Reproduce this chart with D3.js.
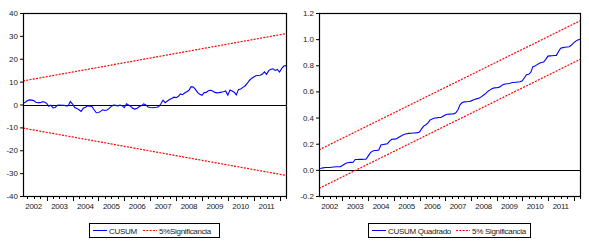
<!DOCTYPE html>
<html>
<head>
<meta charset="utf-8">
<script src="https://cdn.jsdelivr.net/npm/d3@7"></script>
<style>
  body { margin: 0; background: #fff; }
  text { font-family: "Liberation Sans", Arial, sans-serif; fill: #222; }
</style>
</head>
<body>
<svg id="drawing_region"></svg>
<script>
// monthly observations, 2002M02 .. 2012M04
const startMonth = new Date(2002, 1, 1);
const nObs = 123;

const cusum = [
  0.6, 0.9, 1.6, 2.0, 1.9, 1.7, 1.0, 0.8, 0.8, 1.2,
  1.1, 0.5, -0.8, -0.3, -1.5, -1.3, -0.3, -0.2, -0.3, -0.3,
  -0.6, -0.5, 1.3, 0.2, -1.3, -1.7, -2.3, -3.0, -1.6, -1.2,
  -0.6, -0.7, -0.9, -2.3, -3.6, -3.5, -3.0, -2.3, -2.6, -2.4, -1.7,
  -0.8, -0.3, -0.4, -0.6, -0.3, -0.5, -1.4, 0.3, -0.2, -0.8,
  -1.7, -2.0, -1.6, -0.9, -0.5, 0.3, -0.2, -1.1, -1.3, -1.4,
  -1.3, -1.2, -1.0, 0.3, 1.9, 0.8, 1.5, 2.2, 2.6, 3.2, 3.0,
  3.5, 4.6, 4.3, 5.0, 5.6, 6.2, 7.8, 7.6, 6.6, 5.2,
  4.5, 4.0, 5.2, 5.3, 6.0, 6.2, 5.9, 5.3, 5.1, 5.2,
  5.4, 5.6, 5.9, 4.1, 6.3, 5.9, 5.4, 4.2, 6.6, 6.8, 7.5,
  8.1, 9.2, 10.5, 11.4, 12.0, 12.6, 12.7, 12.8, 13.2, 14.3,
  13.2, 14.8, 15.4, 15.6, 14.9, 15.3, 14.2, 15.8, 16.8, 17.0
];

const cusumSq = [
  0.010, 0.012, 0.015, 0.018, 0.018, 0.018, 0.020, 0.022, 0.024, 0.024,
  0.025, 0.033, 0.045, 0.052, 0.056, 0.057, 0.058, 0.079, 0.079, 0.080,
  0.080, 0.081, 0.081, 0.105, 0.130, 0.143, 0.148, 0.149, 0.152, 0.190,
  0.194, 0.197, 0.200, 0.220, 0.234, 0.235, 0.236, 0.245, 0.255, 0.265,
  0.272, 0.276, 0.279, 0.280, 0.282, 0.283, 0.285, 0.290, 0.315, 0.335,
  0.345, 0.360, 0.382, 0.390, 0.397, 0.398, 0.400, 0.400, 0.410, 0.420,
  0.425, 0.426, 0.427, 0.428, 0.436, 0.460, 0.500, 0.515, 0.520, 0.521,
  0.523, 0.526, 0.535, 0.540, 0.545, 0.550, 0.560, 0.573, 0.585, 0.602,
  0.612, 0.622, 0.627, 0.628, 0.631, 0.640, 0.652, 0.657, 0.659, 0.661,
  0.666, 0.668, 0.670, 0.672, 0.674, 0.682, 0.705, 0.728, 0.731, 0.745,
  0.790, 0.794, 0.805, 0.816, 0.821, 0.825, 0.845, 0.870, 0.872, 0.873,
  0.875, 0.876, 0.905, 0.930, 0.935, 0.938, 0.940, 0.942, 0.955, 0.972,
  0.985, 0.993, 1.000
];

// 5% bands: value at first and last observation (straight lines)
const cusumUpper = [10.3, 31.0];
const cusumLower = [-10.3, -31.0];
const sqUpper = [0.153, 1.14];
const sqLower = [-0.142, 0.845];

const yearLabels = ["2002", "2003", "2004", "2005", "2006", "2007", "2008", "2009", "2010", "2011"];
const leftTicks = [40, 30, 20, 10, 0, -10, -20, -30, -40];
const rightTicks = [1.2, 1.0, 0.8, 0.6, 0.4, 0.2, 0.0, -0.2];

const dates = d3.range(nObs).map(i => d3.timeMonth.offset(startMonth, i));
const first = dates[0], last = dates[dates.length - 1];

const svg = d3.select('#drawing_region')
  .attr('width', 589)
  .attr('height', 246);

function drawPanel(cfg) {
  const x = d3.scaleTime().domain([first, last]).range([cfg.left, cfg.right]);
  const y = d3.scaleLinear().domain(cfg.domain).range([cfg.bottom, cfg.top]);
  const g = svg.append('g');

  // y ticks + labels
  g.selectAll('.ytick').data(cfg.ticks).join('line')
    .attr('x1', cfg.left - 3).attr('x2', cfg.left)
    .attr('y1', d => y(d) + 0.5).attr('y2', d => y(d) + 0.5)
    .attr('stroke', '#000');
  g.selectAll('.ylab').data(cfg.ticks).join('text')
    .attr('x', cfg.left - 5)
    .attr('y', d => y(d) + 3)
    .attr('text-anchor', 'end')
    .attr('font-size', '8px')
    .text(d => cfg.fmt(d).replace('−', '-'));

  // x ticks: quarterly small, yearly long
  const quarters = d3.timeMonth.every(3).range(first, d3.timeDay.offset(last, 1));
  g.selectAll('.xtick').data(quarters).join('line')
    .attr('x1', d => Math.round(x(d)) + 0.5).attr('x2', d => Math.round(x(d)) + 0.5)
    .attr('y1', cfg.bottom)
    .attr('y2', d => cfg.bottom + (d.getMonth() === 0 ? 5 : 3))
    .attr('stroke', '#000');
  g.selectAll('.xlab').data(yearLabels).join('text')
    .attr('x', d => x(new Date(+d, 6, 1)))
    .attr('y', cfg.bottom + 13)
    .attr('text-anchor', 'middle')
    .attr('font-size', '8px')
    .attr('letter-spacing', '-0.3px')
    .text(d => d);

  // zero line
  g.append('line')
    .attr('x1', cfg.left).attr('x2', cfg.right)
    .attr('y1', Math.round(y(0)) + 0.5).attr('y2', Math.round(y(0)) + 0.5)
    .attr('stroke', '#000');

  // bands
  cfg.bands.forEach(b => {
    g.append('path')
      .datum([[first, b[0]], [last, b[1]]])
      .attr('fill', 'none')
      .attr('stroke', '#ff0000')
      .attr('stroke-width', 1.2)
      .attr('stroke-dasharray', '2,1.3')
      .attr('d', d3.line().x(d => x(d[0])).y(d => y(d[1])));
  });

  // series
  g.append('path')
    .datum(cfg.series)
    .attr('fill', 'none')
    .attr('stroke', '#0000ff')
    .attr('stroke-width', 1.1)
    .attr('d', d3.line().x((d, i) => x(dates[i])).y(d => y(d)));

  // frame
  g.append('rect')
    .attr('x', cfg.left + 0.5).attr('y', cfg.top + 0.5)
    .attr('width', cfg.right - cfg.left).attr('height', cfg.bottom - cfg.top)
    .attr('fill', 'none')
    .attr('stroke', '#000')
    .attr('stroke-width', 1.2);

  // legend
  const lg = cfg.legend;
  g.append('rect')
    .attr('x', lg.x + 0.5).attr('y', 223.5)
    .attr('width', lg.w).attr('height', 14)
    .attr('fill', 'none').attr('stroke', '#000');
  g.append('line')
    .attr('x1', lg.x + 4).attr('x2', lg.x + 18)
    .attr('y1', 230.5).attr('y2', 230.5)
    .attr('stroke', '#0000ff');
  g.append('text')
    .attr('x', lg.x + 20).attr('y', 233.5)
    .attr('font-size', '8px').attr('letter-spacing', '-0.3px')
    .text(lg.names[0]);
  g.append('line')
    .attr('x1', lg.x2).attr('x2', lg.x2 + 14)
    .attr('y1', 230.5).attr('y2', 230.5)
    .attr('stroke', '#ff0000').attr('stroke-dasharray', '2,1.3');
  g.append('text')
    .attr('x', lg.x2 + 16).attr('y', 233.5)
    .attr('font-size', '8px').attr('letter-spacing', '-0.3px')
    .text(lg.names[1]);
}

drawPanel({
  left: 23, right: 286, top: 13, bottom: 196,
  domain: [-40, 40], ticks: leftTicks, fmt: d3.format('d'),
  series: cusum, bands: [cusumUpper, cusumLower],
  legend: {x: 89, w: 130, x2: 143, names: ['CUSUM', '5%Significancia']}
});

drawPanel({
  left: 319, right: 580, top: 13, bottom: 196,
  domain: [-0.2, 1.2], ticks: rightTicks, fmt: d3.format('.1f'),
  series: cusumSq, bands: [sqUpper, sqLower],
  legend: {x: 368, w: 162, x2: 456, names: ['CUSUM Quadrado', '5% Significancia']}
});
</script>
</body>
</html>
